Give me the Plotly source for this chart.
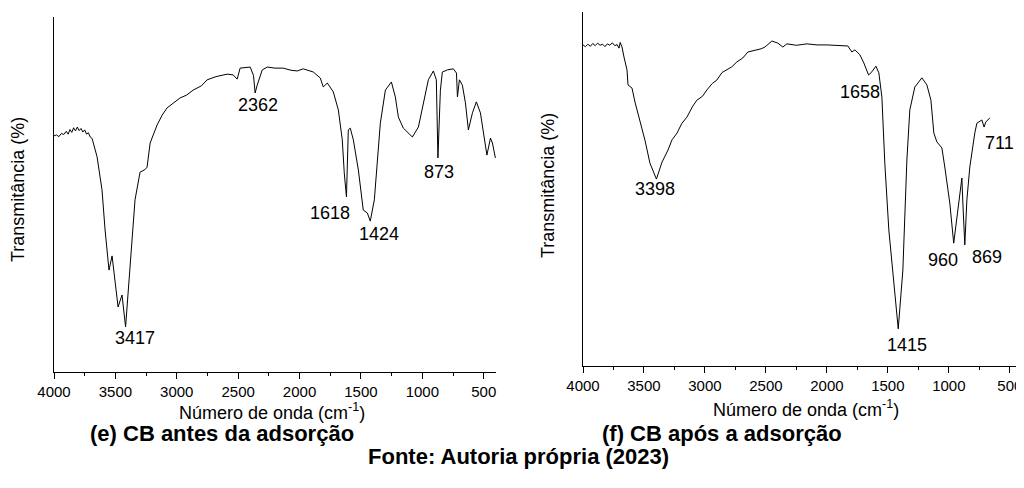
import plotly.graph_objects as go

# ---- (e) CB antes da adsorção ----
wn_e = [4000, 3980, 3960, 3940, 3920, 3900, 3885, 3870, 3855, 3840, 3825, 3810, 3795, 3780,
        3765, 3750, 3735, 3720, 3705, 3690, 3682, 3649, 3609, 3584, 3552, 3527, 3478, 3446,
        3417, 3380, 3340, 3299, 3260, 3242, 3217, 3160, 3120, 3079, 3030, 2973, 2920, 2867,
        2800, 2753, 2680, 2590, 2541, 2508, 2484, 2402, 2375, 2362, 2345, 2304, 2263, 2200,
        2133, 2070, 2019, 1970, 1888, 1831, 1807, 1774, 1725, 1684, 1652, 1644, 1636, 1618,
        1603, 1587, 1562, 1521, 1481, 1448, 1424, 1391, 1367, 1342, 1301, 1252, 1220, 1195,
        1155, 1120, 1081, 1032, 992, 951, 910, 886, 873, 853, 837, 796, 747, 722, 714, 698,
        674, 649, 625, 592, 560, 527, 474, 445, 429, 405]
t_e = [66.5, 66.8, 66.3, 67.2, 66.9, 67.8, 67.0, 68.3, 67.5, 68.8, 67.9, 69.0, 68.0, 68.6,
       67.6, 68.2, 67.0, 67.4, 66.2, 65.8, 64.8, 60.6, 51.3, 40.0, 28.7, 32.7, 18.3, 21.7,
       12.7, 30.7, 48.5, 56.3, 57.0, 57.7, 64.5, 69.6, 72.3, 74.4, 75.8, 77.2, 78.0, 79.4,
       80.6, 82.3, 83.2, 83.9, 83.7, 82.5, 85.6, 85.9, 83.5, 78.6, 80.8, 85.1, 85.9, 85.6,
       85.6, 85.0, 84.8, 85.4, 84.5, 82.8, 80.3, 81.4, 78.9, 73.8, 65.4, 60.6, 56.1, 49.3,
       68.2, 68.7, 65.4, 56.9, 45.6, 44.8, 42.5, 48.5, 58.9, 70.1, 79.4, 81.7, 77.5, 71.8,
       68.7, 67.4, 66.2, 69.0, 75.8, 82.3, 84.8, 82.3, 60.3, 79.4, 84.5, 85.1, 85.4, 84.2,
       77.5, 82.3, 80.8, 75.8, 68.2, 73.0, 76.1, 73.0, 61.1, 65.9, 64.5, 60.3]

lab_e = ["3417", "2362", "1618", "1424", "873", "474"]
lab_e_x = [3340, 2337, 1750, 1350, 861, 388]
lab_e_y = [9.6, 75.2, 44.8, 38.9, 56.3, 56.9]

# ---- (f) CB após a adsorção ----
wn_f = [4000, 3980, 3960, 3940, 3920, 3900, 3880, 3860, 3840, 3820, 3800, 3780, 3760, 3740,
        3720, 3705, 3695, 3680, 3664, 3639, 3631, 3598, 3574, 3533, 3492, 3451, 3418, 3398,
        3352, 3303, 3270, 3229, 3190, 3148, 3100, 3066, 3020, 2984, 2940, 2902, 2860, 2820,
        2780, 2738, 2690, 2648, 2607, 2540, 2508, 2451, 2402, 2361, 2328, 2250, 2164, 2080,
        2000, 1900, 1828, 1795, 1770, 1729, 1697, 1658, 1631, 1598, 1574, 1549, 1525, 1492,
        1459, 1415, 1377, 1344, 1320, 1279, 1221, 1180, 1147, 1123, 1098, 1057, 1033, 992,
        960, 926, 893, 885, 869, 852, 828, 787, 770, 729, 711, 697, 664]
t_f = [90.7, 90.2, 90.9, 90.3, 91.1, 90.5, 91.2, 90.6, 90.9, 90.2, 91.0, 90.6, 91.3, 90.5,
       90.8, 89.8, 91.4, 90.1, 87.3, 83.6, 79.4, 78.5, 74.6, 69.5, 63.8, 57.3, 54.5, 52.8,
       57.6, 61.0, 63.9, 65.8, 68.5, 70.3, 73.4, 75.1, 76.2, 78.0, 79.8, 80.8, 82.9, 83.6,
       84.5, 85.9, 87.0, 88.7, 89.0, 89.6, 90.1, 91.8, 91.2, 90.1, 91.0, 90.6, 91.0, 90.7,
       90.7, 90.5, 90.4, 88.7, 89.3, 87.9, 85.6, 82.2, 83.1, 84.7, 82.8, 76.0, 57.3, 38.4,
       27.1, 10.5, 27.1, 58.2, 72.3, 78.8, 81.4, 79.4, 75.1, 65.8, 63.3, 61.6, 56.2, 46.0,
       34.7, 44.9, 53.1, 46.0, 34.2, 46.9, 56.2, 65.8, 68.6, 69.5, 67.5, 68.9, 70.1]

lab_f = ["3398", "1658", "711", "1415", "960", "869"]
lab_f_x = [3410, 1729, 582, 1344, 1049, 688]
lab_f_y = [50.0, 77.4, 63.0, 5.9, 29.9, 30.8]

x_ticks = [4000, 3500, 3000, 2500, 2000, 1500, 1000, 500]
x_minor = [3750, 3250, 2750, 2250, 1750, 1250, 750]

FONT = "Arial, Liberation Sans, sans-serif"

# The page body has an 8 px default margin: lay the figure out in screen pixels.
OFF = 8
W, H = 1024 - OFF, 488 - OFF

def fx(px):
    return (px - OFF) / W

def fy(py):
    return 1 - (py - OFF) / H

fig = go.Figure()
fig.add_trace(go.Scatter(x=wn_e, y=t_e, mode="lines", line=dict(color="black", width=1),
                         xaxis="x", yaxis="y", showlegend=False, hoverinfo="skip"))
fig.add_trace(go.Scatter(x=wn_f, y=t_f, mode="lines", line=dict(color="black", width=1),
                         xaxis="x2", yaxis="y2", showlegend=False, hoverinfo="skip"))

def xax(domain, anchor):
    return dict(domain=domain, anchor=anchor, range=[4000, 400], tickvals=x_ticks,
                ticks="outside", ticklen=6, tickwidth=1, tickcolor="black",
                showline=True, linecolor="black", linewidth=1.2,
                showgrid=False, zeroline=False, automargin=False,
                tickfont=dict(family=FONT, size=15, color="black"),
                minor=dict(tickvals=x_minor, ticks="outside", ticklen=3, tickwidth=1,
                           tickcolor="black"))

def yax(domain, anchor):
    return dict(domain=domain, anchor=anchor, range=[0, 100], showline=True,
                linecolor="black", linewidth=1.2, showticklabels=False, ticks="",
                showgrid=False, zeroline=False, automargin=False)

fig.update_layout(
    width=W, height=H, margin=dict(l=0, r=0, t=0, b=0, autoexpand=False),
    paper_bgcolor="white", plot_bgcolor="white",
    xaxis=xax([fx(54), fx(496)], "y"),
    yaxis=yax([fy(372), fy(17)], "x"),
    xaxis2=xax([fx(583), fx(1022)], "y2"),
    yaxis2=yax([fy(366), fy(12)], "x2"),
)

ann = []
for t, x, y in zip(lab_e, lab_e_x, lab_e_y):
    ann.append(dict(text=t, x=x, y=y, xref="x", yref="y", showarrow=False,
                    font=dict(family=FONT, size=18, color="black")))
for t, x, y in zip(lab_f, lab_f_x, lab_f_y):
    ann.append(dict(text=t, x=x, y=y, xref="x2", yref="y2", showarrow=False,
                    font=dict(family=FONT, size=18, color="black")))

def paper(text, px, py, size, bold=False, angle=0):
    return dict(text=("<b>%s</b>" % text) if bold else text, x=fx(px), y=fy(py),
                xref="paper", yref="paper", showarrow=False, textangle=angle,
                xanchor="center", yanchor="middle",
                font=dict(family=FONT, size=size, color="black"))

ann += [
    paper("Transmitância (%)", 18, 190, 18, angle=-90),
    paper("Transmitância (%)", 548, 186, 18, angle=-90),
    paper("Número de onda (cm<sup>-1</sup>)", 272, 411, 18),
    paper("Número de onda (cm<sup>-1</sup>)", 806, 408, 18),
    paper("(e) CB antes da adsorção", 222, 433, 22, bold=True),
    paper("(f) CB após a adsorção", 722, 433, 22, bold=True),
    paper("Fonte: Autoria própria (2023)", 518, 456, 22, bold=True),
]
fig.update_layout(annotations=ann)

fig.write_html("out.html")
